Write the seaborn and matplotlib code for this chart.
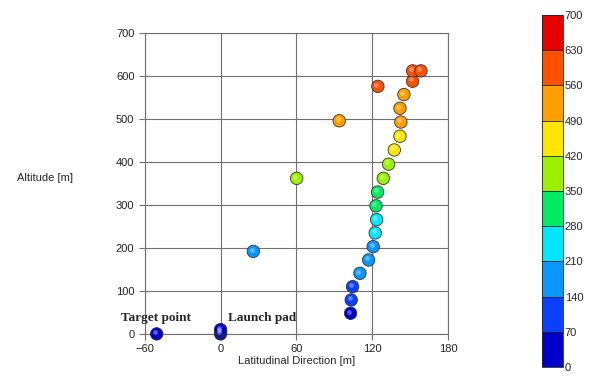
import numpy as np
import pandas as pd
import matplotlib
matplotlib.use('Agg')
import matplotlib.pyplot as plt
import seaborn as sns
from matplotlib.colors import ListedColormap, BoundaryNorm
from matplotlib.colorbar import ColorbarBase

# Trajectory points (latitudinal direction [m], altitude [m])
lat = [-50.6, 0.0, 0.0, 0.0, 102.9, 103.4, 104.5, 110.3, 117.2, 120.8, 122.4,
       123.5, 123.0, 124.3, 128.8, 133.0, 137.5, 142.0, 142.7, 142.0, 145.1,
       152.0, 152.0, 158.6, 124.5, 93.9, 60.2, 25.9]
alt = [0, 0, 5, 10, 48, 79, 110, 141, 172, 203, 235,
       266, 298, 330, 362, 395, 428, 460, 493, 525, 557,
       588, 612, 612, 576, 496, 362, 192]

# Colour scale
levels = [0, 70, 140, 210, 280, 350, 420, 490, 560, 630, 700]
level_colors = ['#0000c8', '#0a40ff', '#0a96ff', '#00e6ff', '#00eb64',
                '#9bf000', '#ffe600', '#ffa000', '#ff5000', '#e60000']

# Labels
labels = ['Target point', 'Launch pad']
label_x = [-79, 5.5]
label_y = [38, 38]

df = pd.DataFrame({'lat': lat, 'alt': alt})

sns.set_style('white')
plt.rcParams['font.family'] = ['Liberation Sans', 'DejaVu Sans']

cmap = ListedColormap(level_colors)
norm = BoundaryNorm(levels, cmap.N)

fig = plt.figure(figsize=(5.91, 3.76), dpi=100)
ax = fig.add_axes([0.245, 0.112, 0.513, 0.800])

sns.scatterplot(data=df, x='lat', y='alt', hue='alt', palette=cmap, hue_norm=norm,
                s=80, edgecolor='#333333', linewidth=0.6, legend=False, ax=ax, zorder=3)
# small highlight to give a shaded look
ax.scatter(df['lat'] - 1.2, df['alt'] + 4, s=12, color='white', alpha=0.35,
           linewidth=0, zorder=4)

ax.set_xlim(-60, 180)
ax.set_ylim(0, 700)
ax.set_xticks([-60, 0, 60, 120, 180])
ax.set_yticks(range(0, 701, 100))
ax.grid(True, color='#707070', linewidth=0.8)
for s in ax.spines.values():
    s.set_color('#707070')
    s.set_linewidth(0.8)
ax.tick_params(axis='both', labelsize=8, length=4, color='#707070', direction='out',
               bottom=True, left=True, labelcolor='#222222')
ax.set_axisbelow(True)
for c in ax.collections:
    c.set_clip_on(False)

ax.set_xlabel('Latitudinal Direction [m]', fontsize=8, labelpad=1)
ax.set_ylabel('Altitude [m]', fontsize=8, rotation=0, labelpad=0)
ax.yaxis.set_label_coords(-0.33, 0.5)

for t, x, y in zip(labels, label_x, label_y):
    ax.text(x, y, t, fontsize=9.5, fontweight='bold', family='Liberation Serif',
            va='center', ha='left', clip_on=False)

cax = fig.add_axes([0.917, 0.024, 0.036, 0.936])
cb = ColorbarBase(cax, cmap=cmap, norm=norm, boundaries=levels, ticks=levels,
                  drawedges=True)
cb.dividers.set_color('#222222')
cb.dividers.set_linewidth(0.6)
cb.outline.set_linewidth(0.6)
cax.tick_params(labelsize=8, length=0, pad=1)

fig.savefig('out.png', dpi=100)
